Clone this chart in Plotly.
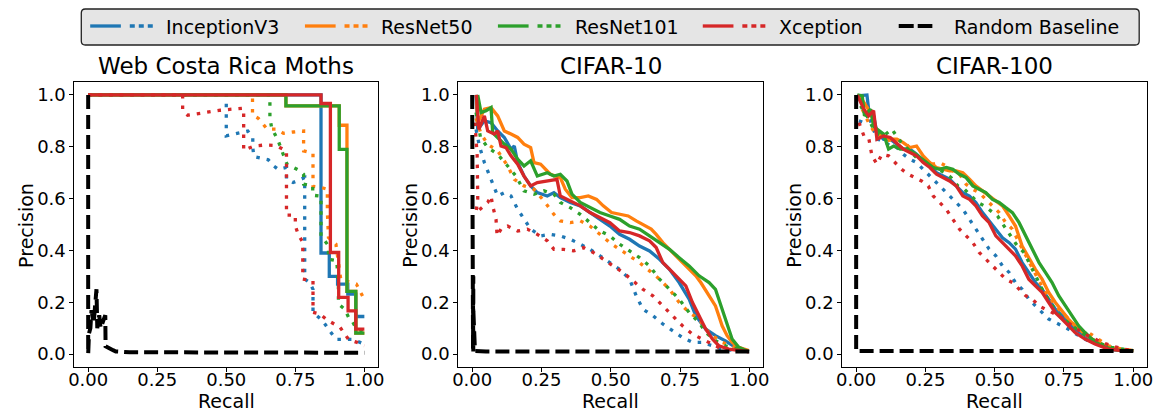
import plotly.graph_objects as go

# ---------------- DATA ----------------
MODELS = ["InceptionV3", "ResNet50", "ResNet101", "Xception"]
COLORS = ["#1f77b4", "#ff7f0e", "#2ca02c", "#d62728"]
PANEL_TITLES = ["Web Costa Rica Moths", "CIFAR-10", "CIFAR-100"]
X_TICKS = [0, 0.25, 0.5, 0.75, 1.0]
X_TICK_LABELS = ["0.00", "0.25", "0.50", "0.75", "1.00"]
Y_TICKS = [0, 0.2, 0.4, 0.6, 0.8, 1.0]
Y_TICK_LABELS = ["0.0", "0.2", "0.4", "0.6", "0.8", "1.0"]
LEGEND_LABELS = MODELS + ["Random Baseline"]

# ---- Web Costa Rica Moths (solid curves are step-shaped) ----
moths_inception_solid_r = [0, 0.843, 0.873, 0.903, 0.94, 0.969, 1.0]
moths_inception_solid_p = [1.0, 0.39, 0.30, 0.27, 0.231, 0.145, 0.145]
moths_resnet50_solid_r = [0, 0.716, 0.909, 0.937, 0.969, 1.0]
moths_resnet50_solid_p = [1.0, 0.958, 0.883, 0.242, 0.081, 0.081]
moths_resnet101_solid_r = [0, 0.716, 0.909, 0.937, 0.969, 1.0]
moths_resnet101_solid_p = [1.0, 0.958, 0.79, 0.242, 0.081, 0.081]
moths_xception_solid_r = [0, 0.843, 0.877, 0.907, 0.941, 0.969, 1.0]
moths_xception_solid_p = [1.0, 0.967, 0.392, 0.219, 0.167, 0.096, 0.096]

moths_inception_dot_r = [0, 0.5, 0.5, 0.5, 0.5, 0.5, 0.539, 0.578, 0.596, 0.596, 0.6, 0.627, 0.652, 0.668,
                         0.688, 0.718, 0.718, 0.742, 0.784, 0.784, 0.784, 0.784, 0.784, 0.802, 0.814, 0.814,
                         0.849, 0.879, 0.897, 0.957, 1.0]
moths_inception_dot_p = [1.0, 1.0, 0.968, 0.925, 0.883, 0.842, 0.852, 0.861, 0.835, 0.797, 0.762, 0.755, 0.75,
                         0.729, 0.713, 0.72, 0.675, 0.662, 0.681, 0.598, 0.508, 0.405, 0.289, 0.276, 0.25, 0.161,
                         0.128, 0.083, 0.057, 0.057, 0.038]
moths_resnet50_dot_r = [0, 0.595, 0.595, 0.595, 0.616, 0.648, 0.683, 0.707, 0.743, 0.78, 0.78, 0.78, 0.814, 0.814,
                        0.814, 0.814, 0.843, 0.866, 0.866, 0.87, 0.897, 0.915, 0.94, 0.971, 1.0]
moths_resnet50_dot_p = [1.0, 1.0, 0.964, 0.922, 0.91, 0.868, 0.868, 0.852, 0.857, 0.861, 0.816, 0.784, 0.775, 0.733,
                        0.688, 0.647, 0.643, 0.636, 0.55, 0.45, 0.424, 0.285, 0.28, 0.27, 0.21]
moths_resnet101_dot_r = [0, 0.658, 0.658, 0.658, 0.658, 0.664, 0.688, 0.706, 0.72, 0.76, 0.78, 0.78, 0.813, 0.813,
                         0.843, 0.843, 0.843, 0.87, 0.87, 0.9, 0.906, 0.906, 0.928, 0.946, 0.958, 0.97, 1.0]
moths_resnet101_dot_p = [1.0, 1.0, 0.996, 0.958, 0.913, 0.874, 0.823, 0.771, 0.733, 0.711, 0.694, 0.656, 0.649,
                         0.613, 0.609, 0.533, 0.456, 0.418, 0.366, 0.36, 0.264, 0.193, 0.174, 0.135, 0.123, 0.1, 0.085]
moths_xception_dot_r = [0, 0.342, 0.342, 0.342, 0.36, 0.401, 0.44, 0.479, 0.519, 0.563, 0.563, 0.563, 0.563, 0.563,
                        0.601, 0.64, 0.679, 0.718, 0.718, 0.718, 0.718, 0.718, 0.718, 0.718, 0.75, 0.75, 0.76, 0.777,
                        0.777, 0.814, 0.814, 0.814, 0.84, 0.866, 0.912, 0.944, 0.974, 1.0]
moths_xception_dot_p = [1.0, 1.0, 0.983, 0.941, 0.922, 0.929, 0.935, 0.941, 0.945, 0.949, 0.913, 0.87, 0.827, 0.787,
                        0.803, 0.807, 0.805, 0.784, 0.746, 0.7, 0.656, 0.617, 0.575, 0.536, 0.536, 0.495, 0.463, 0.431,
                        0.289, 0.283, 0.25, 0.161, 0.154, 0.131, 0.103, 0.055, 0.045, 0.032]
moths_random_r = [0, 0, 0.003, 0.008, 0.012, 0.02, 0.025, 0.03, 0.033, 0.04, 0.045, 0.055, 0.062, 0.063, 0.075,
                  0.09, 0.1, 0.15, 1.0]
moths_random_p = [1.0, 0.0, 0.08, 0.1, 0.17, 0.12, 0.2, 0.25, 0.1, 0.15, 0.1, 0.13, 0.15, 0.03, 0.025, 0.015, 0.01,
                  0.007, 0.005]

# ---- CIFAR-10 ----
c10_inception_solid_r = [0.014, 0.02, 0.044, 0.068, 0.092, 0.116, 0.14, 0.152, 0.164, 0.187, 0.211, 0.235, 0.271,
                         0.295, 0.318, 0.354, 0.39, 0.425, 0.461, 0.497, 0.532, 0.568, 0.604, 0.64, 0.676, 0.712,
                         0.747, 0.783, 0.807, 0.843, 0.878, 0.914, 0.95, 0.998]
c10_inception_solid_p = [1.0, 0.867, 0.9, 0.893, 0.861, 0.836, 0.791, 0.803, 0.739, 0.687, 0.649, 0.623, 0.61, 0.623,
                         0.604, 0.585, 0.572, 0.546, 0.52, 0.494, 0.462, 0.443, 0.417, 0.398, 0.366, 0.327, 0.276,
                         0.212, 0.148, 0.096, 0.071, 0.051, 0.026, 0.009]
c10_resnet50_solid_r = [0.015, 0.02, 0.044, 0.068, 0.092, 0.116, 0.14, 0.164, 0.187, 0.211, 0.223, 0.247, 0.282,
                        0.318, 0.336, 0.36, 0.39, 0.419, 0.449, 0.473, 0.503, 0.532, 0.563, 0.592, 0.616, 0.646,
                        0.664, 0.688, 0.712, 0.735, 0.759, 0.783, 0.807, 0.825, 0.855, 0.878, 0.89, 0.902, 0.92,
                        0.938, 0.962, 0.998]
c10_resnet50_solid_p = [1.0, 0.893, 0.945, 0.951, 0.919, 0.861, 0.849, 0.836, 0.81, 0.797, 0.739, 0.733, 0.694,
                        0.681, 0.636, 0.604, 0.604, 0.61, 0.597, 0.572, 0.546, 0.539, 0.533, 0.514, 0.501, 0.482,
                        0.462, 0.43, 0.404, 0.379, 0.353, 0.327, 0.302, 0.276, 0.225, 0.186, 0.148, 0.109, 0.071,
                        0.045, 0.026, 0.013]
c10_resnet101_solid_r = [0.02, 0.032, 0.05, 0.068, 0.074, 0.116, 0.14, 0.164, 0.187, 0.211, 0.235, 0.271, 0.295,
                         0.318, 0.342, 0.36, 0.39, 0.425, 0.461, 0.497, 0.532, 0.568, 0.604, 0.64, 0.676, 0.712,
                         0.747, 0.783, 0.819, 0.855, 0.878, 0.902, 0.92, 0.938, 0.962, 0.998]
c10_resnet101_solid_p = [1.0, 0.932, 0.939, 0.951, 0.854, 0.81, 0.791, 0.752, 0.726, 0.746, 0.687, 0.7, 0.687,
                         0.694, 0.668, 0.617, 0.585, 0.565, 0.546, 0.533, 0.52, 0.494, 0.482, 0.456, 0.43, 0.404,
                         0.372, 0.34, 0.302, 0.276, 0.25, 0.173, 0.109, 0.058, 0.026, 0.009]
c10_xception_solid_r = [0.015, 0.024, 0.044, 0.056, 0.08, 0.092, 0.104, 0.122, 0.14, 0.164, 0.187, 0.211, 0.235,
                        0.271, 0.306, 0.318, 0.354, 0.39, 0.425, 0.461, 0.497, 0.532, 0.568, 0.604, 0.64, 0.664,
                        0.688, 0.718, 0.747, 0.771, 0.795, 0.819, 0.843, 0.867, 0.89, 0.926, 0.974, 0.998]
c10_xception_solid_p = [1.0, 0.867, 0.919, 0.861, 0.849, 0.861, 0.803, 0.797, 0.765, 0.733, 0.687, 0.649, 0.662,
                        0.668, 0.674, 0.61, 0.591, 0.572, 0.546, 0.527, 0.507, 0.475, 0.469, 0.456, 0.437, 0.411,
                        0.353, 0.321, 0.289, 0.263, 0.199, 0.148, 0.096, 0.058, 0.032, 0.019, 0.013, 0.009]

c10_inception_dot_r = [0.014, 0.026, 0.044, 0.068, 0.092, 0.116, 0.14, 0.164, 0.187, 0.211, 0.247, 0.282, 0.318,
                       0.354, 0.39, 0.425, 0.461, 0.497, 0.532, 0.568, 0.592, 0.616, 0.652, 0.688, 0.723, 0.759,
                       0.795, 0.831, 0.867, 0.902, 0.95, 0.998]
c10_inception_dot_p = [0.867, 0.803, 0.739, 0.674, 0.61, 0.623, 0.61, 0.559, 0.52, 0.482, 0.456, 0.462, 0.456, 0.443,
                       0.424, 0.404, 0.379, 0.353, 0.327, 0.289, 0.225, 0.173, 0.148, 0.116, 0.09, 0.064, 0.045,
                       0.045, 0.032, 0.019, 0.013, 0.009]
c10_resnet50_dot_r = [0.014, 0.032, 0.056, 0.092, 0.128, 0.152, 0.187, 0.223, 0.259, 0.295, 0.318, 0.354, 0.39,
                      0.425, 0.461, 0.497, 0.532, 0.568, 0.604, 0.64, 0.676, 0.712, 0.747, 0.783, 0.819, 0.843,
                      0.867, 0.902, 0.95, 0.998]
c10_resnet50_dot_p = [0.91, 0.849, 0.81, 0.784, 0.726, 0.674, 0.649, 0.636, 0.591, 0.539, 0.514, 0.507, 0.514,
                      0.494, 0.462, 0.43, 0.404, 0.379, 0.353, 0.321, 0.289, 0.25, 0.199, 0.16, 0.135, 0.096,
                      0.071, 0.045, 0.026, 0.009]
c10_resnet101_dot_r = [0.014, 0.03, 0.056, 0.092, 0.128, 0.158, 0.187, 0.223, 0.259, 0.295, 0.318, 0.354, 0.39,
                       0.425, 0.461, 0.497, 0.532, 0.568, 0.604, 0.64, 0.676, 0.712, 0.747, 0.783, 0.819, 0.843,
                       0.878, 0.914, 0.962, 0.998]
c10_resnet101_dot_p = [0.932, 0.836, 0.797, 0.771, 0.726, 0.687, 0.63, 0.617, 0.63, 0.617, 0.585, 0.565, 0.539,
                       0.507, 0.475, 0.456, 0.424, 0.398, 0.372, 0.34, 0.289, 0.25, 0.212, 0.16, 0.122, 0.083,
                       0.051, 0.032, 0.019, 0.009]
c10_xception_dot_r = [0.01, 0.014, 0.018, 0.02, 0.014, 0.056, 0.068, 0.074, 0.086, 0.09, 0.104, 0.128, 0.164, 0.199,
                      0.235, 0.271, 0.295, 0.33, 0.366, 0.402, 0.437, 0.473, 0.509, 0.544, 0.58, 0.616, 0.652,
                      0.688, 0.723, 0.759, 0.795, 0.831, 0.867, 0.902, 0.95, 0.998]
c10_xception_dot_p = [0.893, 0.803, 0.765, 0.6, 0.546, 0.585, 0.61, 0.572, 0.52, 0.456, 0.482, 0.494, 0.475, 0.482,
                      0.462, 0.437, 0.404, 0.404, 0.398, 0.411, 0.392, 0.366, 0.34, 0.315, 0.283, 0.25, 0.225,
                      0.186, 0.148, 0.109, 0.077, 0.058, 0.039, 0.019, 0.013, 0.009]
c10_random_r = [0, 0, 0.002, 0.002, 0.003, 0.003, 0.004, 0.004, 0.003, 0.01, 0.05, 1.0]
c10_random_p = [1.0, 0.5, 0.48, 0.05, 0.4, 0.02, 0.3, 0.01, 0.2, 0.012, 0.01, 0.01]

# ---- CIFAR-100 ----
c100_inception_solid_r = [0.004, 0.039, 0.045, 0.063, 0.075, 0.099, 0.123, 0.147, 0.17, 0.194, 0.218, 0.242, 0.266,
                          0.29, 0.313, 0.337, 0.361, 0.385, 0.409, 0.432, 0.456, 0.48, 0.504, 0.528, 0.552, 0.575,
                          0.599, 0.623, 0.647, 0.671, 0.695, 0.719, 0.743, 0.766, 0.79, 0.826, 0.862, 0.91, 0.958,
                          1.0]
c100_inception_solid_p = [0.996, 1.0, 0.945, 0.919, 0.855, 0.829, 0.829, 0.81, 0.791, 0.791, 0.771, 0.746, 0.726,
                          0.7, 0.687, 0.675, 0.649, 0.623, 0.61, 0.585, 0.546, 0.514, 0.482, 0.449, 0.43, 0.405,
                          0.353, 0.315, 0.276, 0.25, 0.212, 0.173, 0.148, 0.122, 0.096, 0.071, 0.045, 0.019, 0.013,
                          0.013]
c100_resnet50_solid_r = [0.01, 0.052, 0.075, 0.099, 0.123, 0.147, 0.17, 0.194, 0.218, 0.242, 0.266, 0.29, 0.313,
                         0.337, 0.361, 0.385, 0.409, 0.432, 0.456, 0.48, 0.504, 0.528, 0.552, 0.575, 0.599, 0.623,
                         0.647, 0.671, 0.695, 0.719, 0.743, 0.766, 0.79, 0.826, 0.862, 0.898, 0.946, 1.0]
c100_resnet50_solid_p = [1.0, 0.932, 0.855, 0.842, 0.829, 0.829, 0.816, 0.797, 0.803, 0.765, 0.739, 0.72, 0.713,
                         0.707, 0.707, 0.7, 0.675, 0.649, 0.63, 0.61, 0.591, 0.572, 0.533, 0.494, 0.417, 0.372,
                         0.327, 0.289, 0.238, 0.199, 0.167, 0.135, 0.109, 0.077, 0.051, 0.032, 0.019, 0.013]
c100_resnet101_solid_r = [0.004, 0.022, 0.03, 0.052, 0.063, 0.075, 0.099, 0.117, 0.135, 0.159, 0.182, 0.206, 0.23,
                          0.254, 0.278, 0.301, 0.325, 0.349, 0.373, 0.397, 0.421, 0.444, 0.468, 0.492, 0.516, 0.54,
                          0.564, 0.588, 0.612, 0.636, 0.66, 0.683, 0.707, 0.731, 0.755, 0.779, 0.803, 0.826, 0.85,
                          0.886, 0.922, 0.958, 1.0]
c100_resnet101_solid_p = [1.0, 0.996, 0.919, 0.945, 0.88, 0.868, 0.849, 0.791, 0.803, 0.791, 0.791, 0.778, 0.759,
                          0.739, 0.72, 0.713, 0.72, 0.713, 0.694, 0.681, 0.649, 0.636, 0.623, 0.597, 0.585, 0.565,
                          0.546, 0.507, 0.456, 0.405, 0.353, 0.315, 0.276, 0.225, 0.186, 0.148, 0.109, 0.083, 0.058,
                          0.032, 0.019, 0.013, 0.013]
c100_xception_solid_r = [0.004, 0.028, 0.045, 0.063, 0.075, 0.099, 0.123, 0.17, 0.194, 0.218, 0.242, 0.266, 0.29,
                         0.313, 0.337, 0.361, 0.385, 0.409, 0.432, 0.456, 0.48, 0.504, 0.528, 0.552, 0.575, 0.599,
                         0.623, 0.647, 0.671, 0.695, 0.719, 0.743, 0.766, 0.79, 0.826, 0.862, 0.91, 0.958, 1.0]
c100_xception_solid_p = [1.0, 0.945, 0.919, 0.939, 0.829, 0.842, 0.836, 0.791, 0.778, 0.765, 0.739, 0.72, 0.694,
                         0.681, 0.668, 0.649, 0.61, 0.597, 0.572, 0.533, 0.507, 0.456, 0.43, 0.405, 0.379, 0.34,
                         0.289, 0.263, 0.238, 0.199, 0.16, 0.135, 0.109, 0.083, 0.058, 0.039, 0.019, 0.013, 0.013]

c100_inception_dot_r = [0.01, 0.028, 0.052, 0.075, 0.099, 0.123, 0.147, 0.17, 0.194, 0.218, 0.242, 0.266, 0.29,
                        0.313, 0.337, 0.361, 0.385, 0.409, 0.432, 0.456, 0.48, 0.504, 0.528, 0.552, 0.575, 0.599,
                        0.623, 0.647, 0.671, 0.695, 0.719, 0.743, 0.766, 0.803, 0.838, 0.874, 0.91, 0.958, 1.0]
c100_inception_dot_p = [0.9, 0.893, 0.9, 0.829, 0.823, 0.803, 0.797, 0.771, 0.752, 0.739, 0.713, 0.687, 0.662,
                        0.636, 0.61, 0.585, 0.559, 0.52, 0.482, 0.443, 0.405, 0.379, 0.34, 0.315, 0.276, 0.25,
                        0.212, 0.186, 0.16, 0.135, 0.122, 0.109, 0.096, 0.071, 0.051, 0.039, 0.026, 0.019, 0.013]
c100_resnet50_dot_r = [0.022, 0.045, 0.063, 0.087, 0.111, 0.135, 0.159, 0.182, 0.206, 0.23, 0.254, 0.278, 0.301,
                       0.325, 0.349, 0.373, 0.397, 0.421, 0.444, 0.468, 0.492, 0.516, 0.54, 0.564, 0.588, 0.612,
                       0.636, 0.66, 0.683, 0.707, 0.731, 0.755, 0.779, 0.803, 0.838, 0.874, 0.91, 0.958, 1.0]
c100_resnet50_dot_p = [0.945, 0.893, 0.861, 0.836, 0.823, 0.829, 0.823, 0.81, 0.778, 0.759, 0.746, 0.733, 0.739,
                       0.726, 0.707, 0.694, 0.655, 0.636, 0.623, 0.597, 0.572, 0.546, 0.507, 0.482, 0.43, 0.379,
                       0.327, 0.282, 0.238, 0.205, 0.173, 0.148, 0.122, 0.096, 0.083, 0.058, 0.032, 0.019, 0.013]
c100_resnet101_dot_r = [0.016, 0.039, 0.069, 0.099, 0.129, 0.153, 0.176, 0.2, 0.224, 0.248, 0.272, 0.296, 0.32,
                        0.343, 0.367, 0.391, 0.415, 0.439, 0.462, 0.486, 0.51, 0.534, 0.558, 0.582, 0.606, 0.63,
                        0.653, 0.677, 0.701, 0.725, 0.749, 0.779, 0.814, 0.85, 0.886, 0.922, 0.964, 1.0]
c100_resnet101_dot_p = [0.958, 0.919, 0.855, 0.842, 0.868, 0.829, 0.803, 0.778, 0.752, 0.739, 0.72, 0.713, 0.7,
                        0.681, 0.649, 0.636, 0.61, 0.585, 0.572, 0.552, 0.533, 0.494, 0.456, 0.417, 0.392, 0.34,
                        0.289, 0.238, 0.199, 0.16, 0.135, 0.109, 0.083, 0.058, 0.039, 0.026, 0.019, 0.013]
c100_xception_dot_r = [0.01, 0.028, 0.045, 0.057, 0.075, 0.093, 0.117, 0.141, 0.164, 0.188, 0.212, 0.236, 0.26,
                       0.278, 0.301, 0.325, 0.349, 0.373, 0.397, 0.421, 0.444, 0.468, 0.492, 0.516, 0.54, 0.564,
                       0.588, 0.612, 0.636, 0.66, 0.683, 0.707, 0.731, 0.755, 0.779, 0.814, 0.85, 0.886, 0.922,
                       0.964, 1.0]
c100_xception_dot_p = [0.893, 0.842, 0.836, 0.765, 0.733, 0.771, 0.765, 0.739, 0.713, 0.694, 0.681, 0.668, 0.649,
                       0.61, 0.585, 0.559, 0.52, 0.482, 0.456, 0.43, 0.392, 0.366, 0.34, 0.315, 0.289, 0.276, 0.25,
                       0.225, 0.212, 0.186, 0.173, 0.16, 0.148, 0.129, 0.109, 0.083, 0.064, 0.045, 0.032, 0.019,
                       0.013]
c100_random_r = [0, 0, 0.01, 1.0]
c100_random_p = [1.0, 0.01, 0.012, 0.012]

# ---------------- FIGURE ----------------
OFF = 8  # page body margin offset in the browser
W, H = 1163 - OFF, 412 - OFF
FONT = "DejaVu Sans"
SOLID_W = 3.3
DOT_DASH = "3.5px,7px"
BLACK_W = 4
BLACK_DASH = "14px,6px"


def px(x):
    return (x - OFF) / W


def py(y):
    return 1 - (y - OFF) / H


panels = [
    dict(solid=[(moths_inception_solid_r, moths_inception_solid_p), (moths_resnet50_solid_r, moths_resnet50_solid_p),
                (moths_resnet101_solid_r, moths_resnet101_solid_p), (moths_xception_solid_r, moths_xception_solid_p)],
         dot=[(moths_inception_dot_r, moths_inception_dot_p), (moths_resnet50_dot_r, moths_resnet50_dot_p),
              (moths_resnet101_dot_r, moths_resnet101_dot_p), (moths_xception_dot_r, moths_xception_dot_p)],
         rand=(moths_random_r, moths_random_p), shape="hv"),
    dict(solid=[(c10_inception_solid_r, c10_inception_solid_p), (c10_resnet50_solid_r, c10_resnet50_solid_p),
                (c10_resnet101_solid_r, c10_resnet101_solid_p), (c10_xception_solid_r, c10_xception_solid_p)],
         dot=[(c10_inception_dot_r, c10_inception_dot_p), (c10_resnet50_dot_r, c10_resnet50_dot_p),
              (c10_resnet101_dot_r, c10_resnet101_dot_p), (c10_xception_dot_r, c10_xception_dot_p)],
         rand=(c10_random_r, c10_random_p), shape="linear"),
    dict(solid=[(c100_inception_solid_r, c100_inception_solid_p), (c100_resnet50_solid_r, c100_resnet50_solid_p),
                (c100_resnet101_solid_r, c100_resnet101_solid_p), (c100_xception_solid_r, c100_xception_solid_p)],
         dot=[(c100_inception_dot_r, c100_inception_dot_p), (c100_resnet50_dot_r, c100_resnet50_dot_p),
              (c100_resnet101_dot_r, c100_resnet101_dot_p), (c100_xception_dot_r, c100_xception_dot_p)],
         rand=(c100_random_r, c100_random_p), shape="linear"),
]

# target pixel layout (screen coordinates)
x_px = [(69, 376), (457, 765), (845, 1153)]
y_px = (82, 367)

fig = go.Figure()
for i, pnl in enumerate(panels):
    sfx = "" if i == 0 else str(i + 1)
    xa, ya = "x" + sfx, "y" + sfx
    for m in range(4):
        r, p = pnl["solid"][m]
        fig.add_trace(go.Scatter(x=r, y=p, mode="lines", xaxis=xa, yaxis=ya, showlegend=False,
                                 line=dict(color=COLORS[m], width=SOLID_W, shape=pnl["shape"])))
        r, p = pnl["dot"][m]
        fig.add_trace(go.Scatter(x=r, y=p, mode="lines", xaxis=xa, yaxis=ya, showlegend=False,
                                 line=dict(color=COLORS[m], width=SOLID_W, dash=DOT_DASH)))
    r, p = pnl["rand"]
    fig.add_trace(go.Scatter(x=r, y=p, mode="lines", xaxis=xa, yaxis=ya, showlegend=False,
                             line=dict(color="black", width=BLACK_W, dash=BLACK_DASH)))

axis_common = dict(range=[-0.05, 1.05], showgrid=False, zeroline=False, showline=True, mirror=True,
                   linecolor="black", linewidth=1, ticks="outside", ticklen=4, tickwidth=1, tickcolor="black",
                   tickfont=dict(family=FONT, size=18, color="black"))
annotations = []
for i in range(3):
    sfx = "" if i == 0 else str(i + 1)
    x0, x1 = x_px[i]
    fig.layout["xaxis" + sfx] = dict(axis_common, domain=[px(x0), px(x1)], anchor="y" + sfx,
                                     tickvals=X_TICKS, ticktext=X_TICK_LABELS, ticklabelstandoff=-8)
    fig.layout["yaxis" + sfx] = dict(axis_common, domain=[py(y_px[1]), py(y_px[0])], anchor="x" + sfx,
                                     tickvals=Y_TICKS, ticktext=Y_TICK_LABELS)
    cx = px((x0 + x1) / 2)
    annotations.append(dict(text=PANEL_TITLES[i], x=cx, y=py(66), xref="paper", yref="paper",
                            xanchor="center", yanchor="middle", showarrow=False,
                            font=dict(family=FONT, size=23, color="black")))
    annotations.append(dict(text="Recall", x=cx, y=py(401), xref="paper", yref="paper",
                            xanchor="center", yanchor="middle", showarrow=False,
                            font=dict(family=FONT, size=19, color="black")))
    annotations.append(dict(text="Precision", x=px(x0 - 49), y=py(225), xref="paper", yref="paper",
                            xanchor="center", yanchor="middle", showarrow=False, textangle=-90,
                            font=dict(family=FONT, size=19, color="black")))

# ---- manual legend (solid + dotted pair per model) ----
shapes = []
lx0, lx1, ly0, ly1, rad = 76, 1145, 9, 45, 4
path = (f"M {px(lx0 + rad)},{py(ly0)} L {px(lx1 - rad)},{py(ly0)} Q {px(lx1)},{py(ly0)} {px(lx1)},{py(ly0 + rad)} "
        f"L {px(lx1)},{py(ly1 - rad)} Q {px(lx1)},{py(ly1)} {px(lx1 - rad)},{py(ly1)} "
        f"L {px(lx0 + rad)},{py(ly1)} Q {px(lx0)},{py(ly1)} {px(lx0)},{py(ly1 - rad)} "
        f"L {px(lx0)},{py(ly0 + rad)} Q {px(lx0)},{py(ly0)} {px(lx0 + rad)},{py(ly0)} Z")
shapes.append(dict(type="path", path=path, xref="paper", yref="paper", fillcolor="#e5e5e5",
                   line=dict(color="#222222", width=1.3), layer="above"))
legend_y = 26
handle_x = [85, 302, 497, 704]
text_x = [160, 377, 573, 779, 956]
for m in range(4):
    hx = handle_x[m]
    shapes.append(dict(type="line", x0=px(hx), x1=px(hx + 31), y0=py(legend_y), y1=py(legend_y),
                       xref="paper", yref="paper", line=dict(color=COLORS[m], width=SOLID_W), layer="above"))
    shapes.append(dict(type="line", x0=px(hx + 40), x1=px(hx + 65), y0=py(legend_y), y1=py(legend_y),
                       xref="paper", yref="paper", line=dict(color=COLORS[m], width=SOLID_W, dash="5px,4px"),
                       layer="above"))
shapes.append(dict(type="line", x0=px(902), x1=px(936), y0=py(legend_y), y1=py(legend_y), xref="paper",
                   yref="paper", line=dict(color="black", width=BLACK_W, dash="15px,4px"), layer="above"))
for k, lbl in enumerate(LEGEND_LABELS):
    annotations.append(dict(text=lbl, x=px(text_x[k]), y=py(legend_y + 1), xref="paper", yref="paper",
                            xanchor="left", yanchor="middle", showarrow=False,
                            font=dict(family=FONT, size=19, color="black")))

fig.update_layout(width=W, height=H, margin=dict(l=0, r=0, t=0, b=0), plot_bgcolor="white",
                  paper_bgcolor="white", showlegend=False, shapes=shapes, annotations=annotations,
                  font=dict(family=FONT, color="black"))
fig.write_html("out.html")
